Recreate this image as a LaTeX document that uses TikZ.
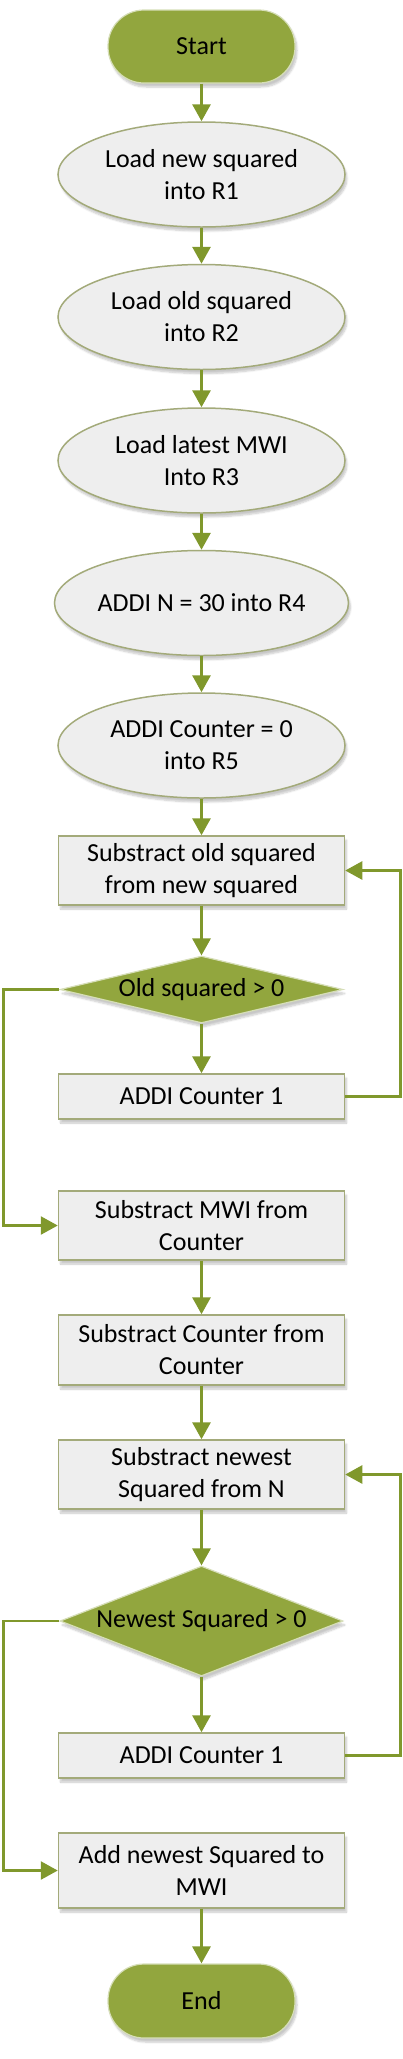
\documentclass[tikz,border=0pt]{standalone}
\usepackage{fontspec}
\setmainfont{Carlito}
\usetikzlibrary{arrows.meta,shapes.geometric,shadows.blur}
\definecolor{olivefill}{RGB}{146,166,62}
\definecolor{olivearrow}{RGB}{128,152,44}
\definecolor{grayfill}{RGB}{238,238,238}
\definecolor{grayedge}{RGB}{163,170,122}
\definecolor{olivedge}{RGB}{214,222,184}
\tikzset{
  myshadow/.style={blur shadow={shadow xshift=2pt,shadow yshift=-4pt,shadow blur steps=6,shadow opacity=22}},
  base/.style={font=\fontsize{26}{32}\selectfont, align=center, inner sep=0pt, text=black},
  terminal/.style={base, rectangle, rounded corners=36pt, minimum width=187pt, fill=olivefill, draw=olivedge, line width=1.2pt, myshadow},
  ellbox/.style={base, ellipse, minimum width=287pt, minimum height=105pt, fill=grayfill, draw=grayedge, line width=1.5pt, myshadow},
  procbox/.style={base, rectangle, minimum width=286pt, fill=grayfill, draw=grayedge, line width=1.5pt, myshadow},
  decbox/.style={base, diamond, minimum width=283pt, fill=olivefill, draw=olivedge, line width=1.2pt, myshadow},
  arr/.style={draw=olivearrow, line width=3pt, -{Triangle[width=18pt,length=17pt]}},
  looparr/.style={draw=olivearrow, line width=2.6pt, -{Triangle[width=18pt,length=17pt]}},
}
\begin{document}
\begin{tikzpicture}[x=1pt,y=-1pt]
\useasboundingbox (0,0) rectangle (403,2059);
\node[terminal, minimum height=73pt] (start) at (201.5,46.5) {Start};
\node[ellbox] (e1) at (201.5,174.5) {Load new squared\\into R1};
\node[ellbox] (e2) at (201.5,317) {Load old squared\\into R2};
\node[ellbox] (e3) at (201.5,460.5) {Load latest MWI\\Into R3};
\node[ellbox] (e4) at (201.5,603) {ADDI N = 30 into R4};
\node[ellbox] (e5) at (201.5,745.5) {ADDI Counter = 0\\into R5};
\node[procbox, minimum height=69pt] (b1) at (201.5,870.5) {Substract old squared\\from new squared};
\node[decbox, minimum height=67pt] (d1) at (201.5,989.5) {\makebox[0pt]{Old squared > 0}};
\node[procbox, minimum height=45pt] (b2) at (201.5,1096.5) {ADDI Counter 1};
\node[procbox, minimum height=69pt] (b3) at (201.5,1225.5) {Substract MWI from\\Counter};
\node[procbox, minimum height=70pt] (b4) at (201.5,1350) {Substract Counter from\\Counter};
\node[procbox, minimum height=69pt] (b5) at (201.5,1474.5) {Substract newest\\Squared from N};
\node[decbox, minimum height=110pt] (d2) at (201.5,1621) {\makebox[0pt]{Newest Squared > 0}};
\node[procbox, minimum height=45pt] (b6) at (201.5,1755.5) {ADDI Counter 1};
\node[procbox, minimum height=75pt] (b7) at (201.5,1870.5) {Add newest Squared to\\MWI};
\node[terminal, minimum height=74pt] (end) at (201.5,2001) {End};
\coordinate (rx) at (400.5,0);
\coordinate (lx) at (3.5,0);
\draw[arr] (start) -- (e1);
\draw[arr] (e1) -- (e2);
\draw[arr] (e2) -- (e3);
\draw[arr] (e3) -- (e4);
\draw[arr] (e4) -- (e5);
\draw[arr] (e5) -- (b1);
\draw[arr] (b1) -- (d1);
\draw[arr] (d1) -- (b2);
\draw[arr] (b3) -- (b4);
\draw[arr] (b4) -- (b5);
\draw[arr] (b5) -- (d2);
\draw[arr] (d2) -- (b6);
\draw[arr] (b7) -- (end);
\draw[looparr] (b2.east) -- (b2.east -| rx) |- (b1.east);
\draw[looparr] (d1.west) -- (d1.west -| lx) |- (b3.west);
\draw[looparr] (b6.east) -- (b6.east -| rx) |- (b5.east);
\draw[looparr] (d2.west) -- (d2.west -| lx) |- (b7.west);
\end{tikzpicture}
\end{document}
